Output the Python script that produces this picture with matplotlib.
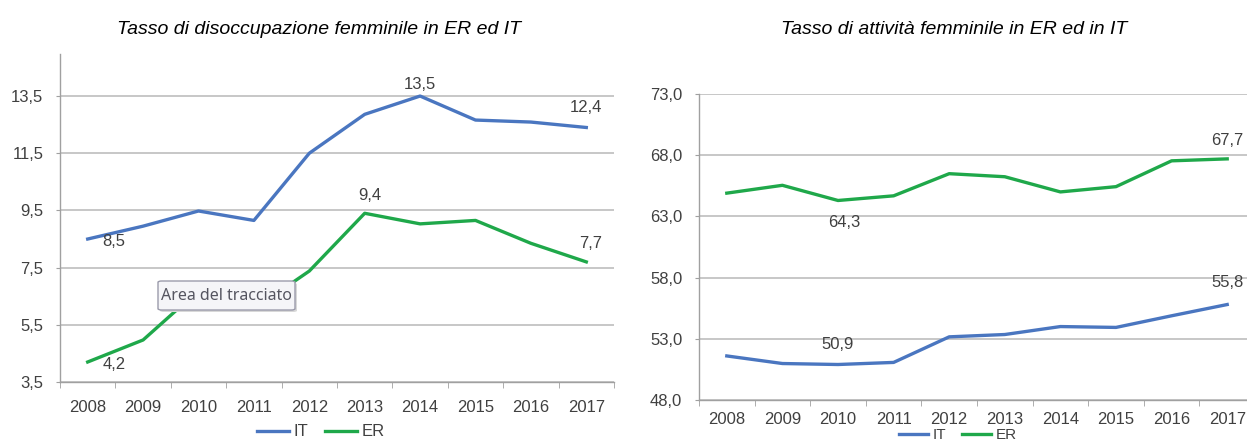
import matplotlib
matplotlib.use("Agg")
import matplotlib.pyplot as plt
from matplotlib.patches import FancyBboxPatch
import numpy as np

years = ["2008", "2009", "2010", "2011", "2012", "2013", "2014", "2015", "2016", "2017"]

# tasso di disoccupazione femminile
disocc_it = [8.5, 8.95, 9.48, 9.15, 11.5, 12.86, 13.5, 12.66, 12.59, 12.4]
disocc_er = [4.2, 4.97, 6.7, 6.05, 7.38, 9.4, 9.03, 9.15, 8.35, 7.7]
disocc_ticks = [3.5, 5.5, 7.5, 9.5, 11.5, 13.5]

# tasso di attivita femminile
att_it = [51.6, 50.98, 50.9, 51.07, 53.16, 53.35, 54.0, 53.93, 54.88, 55.8]
att_er = [64.9, 65.54, 64.3, 64.68, 66.49, 66.24, 65.0, 65.43, 67.54, 67.7]
att_ticks = [48.0, 53.0, 58.0, 63.0, 68.0, 73.0]

BLUE = "#4a76c0"
GREEN = "#1fa84a"
TXT = "#404040"
GRID = "#c3c3c3"
FONT = ["Liberation Sans Narrow", "Liberation Sans", "DejaVu Sans"]

W, H = 1247, 442
fig = plt.figure(figsize=(W / 100, H / 100), dpi=100)


def box(x0, x1, ytop, ybot):
    return [x0 / W, 1 - ybot / H, (x1 - x0) / W, (ybot - ytop) / H]


def style(ax, ticks, fmt, xpad=13):
    x = np.arange(len(years))
    ax.set_xlim(-0.5, len(years) - 0.5)
    ax.set_xticks(x)
    ax.set_xticklabels(years, family=FONT, fontsize=12, color=TXT)
    ax.set_xticks(np.arange(-0.5, len(years)), minor=True)
    ax.tick_params(axis="x", which="major", length=0, pad=xpad)
    ax.tick_params(axis="x", which="minor", length=4, color="#a0a0a0", direction="out")
    ax.set_yticks(ticks)
    ax.set_yticklabels([fmt.format(t).replace(".", ",") for t in ticks],
                       family=FONT, fontsize=12, color=TXT)
    ax.tick_params(axis="y", length=3, color="#a0a0a0", pad=9)
    ax.grid(axis="y", color=GRID, lw=1.3)
    ax.set_axisbelow(True)
    for s in ["top", "right"]:
        ax.spines[s].set_visible(False)
    for s in ["left", "bottom"]:
        ax.spines[s].set_color("#a0a0a0")
        ax.spines[s].set_linewidth(1.0)


def lab(ax, vals, i, dx, dy):
    ax.annotate(f"{vals[i]:.1f}".replace(".", ","), (i, vals[i]),
                xytext=(dx, dy), textcoords="offset pixels",
                ha="center", va="center", family=FONT, fontsize=12, color=TXT,
                zorder=5)


# --- grafico sinistro
ax1 = fig.add_axes(box(60, 614, 54, 382))
x = np.arange(len(years))
ax1.plot(x, disocc_it, color=BLUE, lw=2.4, label="IT", solid_joinstyle="round")
ax1.plot(x, disocc_er, color=GREEN, lw=2.4, label="ER", solid_joinstyle="round")
ax1.set_ylim(3.5, 14.97)
style(ax1, disocc_ticks, "{:.1f}")
lab(ax1, disocc_it, 0, 26, -2)
lab(ax1, disocc_er, 0, 26, -3)
lab(ax1, disocc_it, 6, 0, 12)
lab(ax1, disocc_it, 9, 0, 20)
lab(ax1, disocc_er, 5, 5, 18)
lab(ax1, disocc_er, 9, 4, 18)
ax1.legend(loc="center", bbox_to_anchor=(321 / W, 1 - 432 / H), bbox_transform=fig.transFigure,
           ncol=2, frameon=False, handlelength=1.9, handletextpad=0.3, columnspacing=1.0,
           prop={"family": FONT, "size": 12}, labelcolor=TXT)

# --- grafico destro
ax2 = fig.add_axes(box(699, 1255, 94, 400))
ax2.plot(x, att_er, color=GREEN, lw=2.4, label="ER", solid_joinstyle="round")
ax2.plot(x, att_it, color=BLUE, lw=2.4, label="IT", solid_joinstyle="round")
ax2.set_ylim(48.0, 73.0)
style(ax2, att_ticks, "{:.1f}", xpad=9)
lab(ax2, att_er, 2, 6, -22)
lab(ax2, att_er, 9, 0, 18)
lab(ax2, att_it, 2, 0, 20)
lab(ax2, att_it, 9, 0, 22)
h, l = ax2.get_legend_handles_labels()
ax2.legend(h[::-1], l[::-1], loc="center", bbox_to_anchor=(958 / W, 1 - 435 / H),
           bbox_transform=fig.transFigure, ncol=2, frameon=False, handlelength=1.9,
           handletextpad=0.3, columnspacing=1.0, borderpad=0.0,
           prop={"family": FONT, "size": 11}, labelcolor=TXT)

# titoli
fig.text(319 / W, 1 - 30 / H, "Tasso di disoccupazione femminile in ER ed IT",
         ha="center", va="center", style="italic", fontsize=14,
         family=["Liberation Sans", "DejaVu Sans"], color="black")
fig.text(954 / W, 1 - 30 / H, "Tasso di attività femminile in ER ed in IT",
         ha="center", va="center", style="italic", fontsize=14,
         family=["Liberation Sans", "DejaVu Sans"], color="black")

# tooltip di Excel rimasto nello screenshot
bx0, bx1, by0, by1 = 158, 295, 281, 310
shadow = FancyBboxPatch((bx0 / W + 2 / W, 1 - by1 / H - 2 / H), (bx1 - bx0) / W, (by1 - by0) / H,
                        boxstyle="round,pad=0,rounding_size=0.003", transform=fig.transFigure,
                        facecolor="#d8d8d8", edgecolor="none", zorder=10)
tip = FancyBboxPatch((bx0 / W, 1 - by1 / H), (bx1 - bx0) / W, (by1 - by0) / H,
                     boxstyle="round,pad=0,rounding_size=0.003", transform=fig.transFigure,
                     facecolor="#f5f5f8", edgecolor="#9b9bab", lw=1.0, zorder=11)
fig.patches.extend([shadow, tip])
fig.text((bx0 + bx1) / 2 / W, 1 - (by0 + by1) / 2 / H, "Area del tracciato",
         ha="center", va="center", fontsize=11.5, family=["Noto Sans", "DejaVu Sans"],
         color="#555560", zorder=12)

fig.savefig("out.png", dpi=100)
